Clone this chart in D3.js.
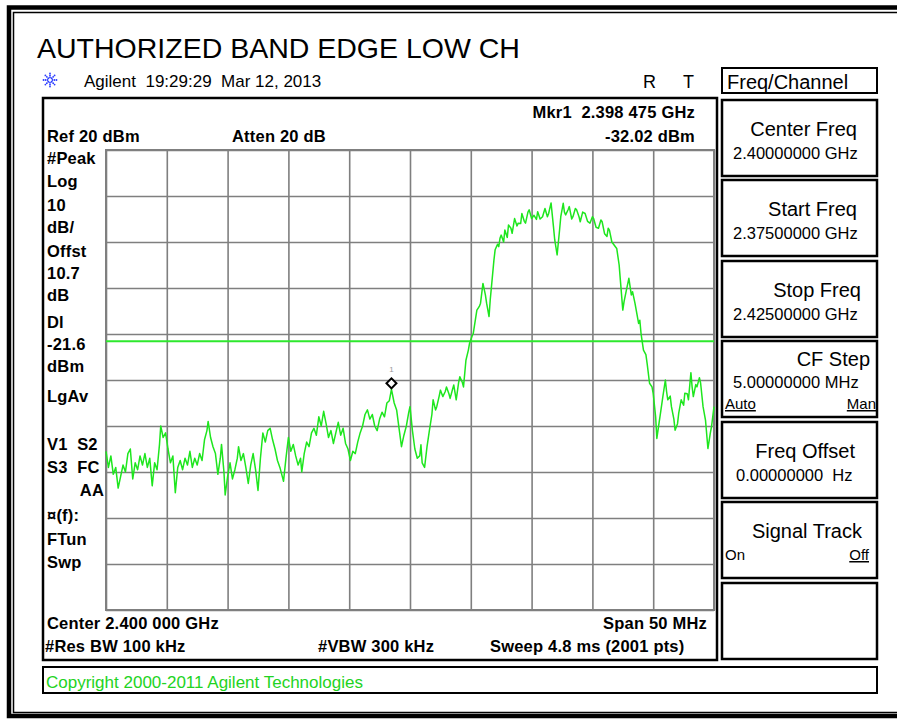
<!DOCTYPE html>
<html>
<head>
<meta charset="utf-8">
<script src="https://cdn.jsdelivr.net/npm/d3@7"></script>
<style>
  body { margin: 0; background: #fff; }
  text { font-family: "Liberation Sans", Arial, sans-serif; }
</style>
</head>
<body>
<div id="chart"></div>
<script>
// trace: [MHz, dBm]
const tracePts = [
  [2375.0, -45.5], [2375.2, -49.0], [2375.4, -46.5], [2375.6, -50.5], [2375.8, -49.0],
  [2376.0, -53.5], [2376.2, -51.0], [2376.4, -48.5], [2376.6, -50.0], [2376.8, -46.0],
  [2377.0, -45.0], [2377.2, -51.5], [2377.4, -48.0], [2377.6, -49.5], [2377.8, -46.5],
  [2378.0, -48.5], [2378.2, -46.0], [2378.4, -49.0], [2378.6, -47.0], [2378.8, -53.0],
  [2379.0, -48.0], [2379.2, -49.5], [2379.4, -44.0], [2379.5, -40.0], [2379.7, -42.5],
  [2379.9, -41.5], [2380.1, -45.0], [2380.3, -48.0], [2380.5, -46.5], [2380.7, -54.5],
  [2380.9, -49.0], [2381.1, -47.5], [2381.3, -49.5], [2381.5, -47.0], [2381.7, -48.5],
  [2381.9, -45.5], [2382.1, -49.0], [2382.3, -47.0], [2382.5, -48.5], [2382.7, -46.0],
  [2382.9, -47.5], [2383.1, -43.0], [2383.3, -41.0], [2383.4, -39.0], [2383.6, -42.5],
  [2383.8, -44.5], [2384.0, -46.0], [2384.2, -50.5], [2384.4, -47.0], [2384.5, -44.0],
  [2384.7, -50.0], [2384.8, -55.0], [2385.0, -51.0], [2385.2, -48.0], [2385.4, -51.5],
  [2385.6, -49.5], [2385.8, -47.0], [2385.9, -44.5], [2386.1, -47.5], [2386.3, -46.0],
  [2386.5, -49.0], [2386.7, -52.5], [2386.9, -48.5], [2387.1, -46.0], [2387.3, -49.5],
  [2387.5, -54.0], [2387.7, -47.0], [2387.9, -41.5], [2388.1, -43.5], [2388.3, -41.0],
  [2388.5, -40.5], [2388.7, -43.0], [2388.9, -45.0], [2389.1, -47.5], [2389.3, -49.0],
  [2389.5, -51.0], [2389.6, -52.0], [2389.8, -47.0], [2390.0, -42.5], [2390.2, -45.5],
  [2390.4, -44.0], [2390.6, -46.5], [2390.8, -48.5], [2391.0, -47.0], [2391.1, -50.0],
  [2391.3, -46.0], [2391.5, -43.5], [2391.7, -44.5], [2391.9, -41.5], [2392.1, -40.5],
  [2392.3, -42.0], [2392.5, -38.0], [2392.7, -40.0], [2392.9, -36.8], [2393.1, -39.5],
  [2393.3, -42.5], [2393.5, -41.0], [2393.7, -43.8], [2393.9, -41.5], [2394.1, -39.2],
  [2394.3, -42.0], [2394.5, -40.5], [2394.7, -43.8], [2394.9, -45.0], [2395.1, -47.5],
  [2395.3, -45.5], [2395.5, -46.0], [2395.7, -43.5], [2395.9, -41.5], [2396.1, -40.0],
  [2396.3, -37.5], [2396.5, -36.5], [2396.7, -38.5], [2396.9, -37.5], [2397.1, -40.0],
  [2397.3, -41.0], [2397.5, -38.5], [2397.7, -37.0], [2397.9, -38.0], [2398.1, -35.0],
  [2398.3, -34.5], [2398.475, -32.02], [2398.7, -35.0], [2398.9, -36.5], [2399.1, -40.5],
  [2399.3, -44.5], [2399.5, -42.0], [2399.7, -40.0], [2399.9, -37.0], [2400.0, -35.8],
  [2400.2, -41.0], [2400.4, -45.0], [2400.6, -47.0], [2400.8, -46.5], [2400.9, -44.1],
  [2401.0, -48.0], [2401.2, -49.0], [2401.4, -44.5], [2401.6, -40.9], [2401.8, -37.5],
  [2401.9, -34.3], [2402.1, -36.5], [2402.2, -35.8], [2402.4, -33.5], [2402.5, -32.2],
  [2402.7, -33.6], [2402.9, -32.5], [2403.0, -31.5], [2403.2, -33.0], [2403.3, -34.0],
  [2403.5, -32.0], [2403.6, -31.1], [2403.8, -34.3], [2404.0, -30.5], [2404.1, -29.3],
  [2404.3, -30.5], [2404.4, -31.5], [2404.6, -25.7], [2404.8, -23.5], [2404.9, -22.0],
  [2405.1, -20.5], [2405.2, -19.9], [2405.4, -16.5], [2405.5, -14.8], [2405.7, -14.0],
  [2405.8, -13.3], [2406.0, -9.0], [2406.2, -11.5], [2406.3, -13.3], [2406.5, -16.2],
  [2406.6, -12.5], [2406.7, -9.7], [2406.9, -4.0], [2407.0, -1.7], [2407.2, -0.5],
  [2407.3, -1.0], [2407.4, 0.8], [2407.5, 1.5], [2407.7, 0.0], [2407.8, 2.6],
  [2408.0, 1.0], [2408.1, 3.7], [2408.3, 3.0], [2408.4, 1.9], [2408.6, 5.1],
  [2408.8, 3.5], [2408.9, 4.1], [2409.1, 4.0], [2409.2, 6.2], [2409.4, 4.5],
  [2409.5, 4.1], [2409.7, 6.5], [2409.8, 7.0], [2410.0, 5.1], [2410.2, 5.8],
  [2410.4, 4.9], [2410.5, 6.6], [2410.7, 5.0], [2410.9, 5.5], [2411.1, 7.3],
  [2411.3, 5.5], [2411.4, 6.2], [2411.6, 8.5], [2411.8, 3.3], [2411.9, 0.5],
  [2412.1, -2.8], [2412.3, 2.6], [2412.4, 5.5], [2412.6, 8.4], [2412.7, 6.5],
  [2412.8, 5.9], [2413.0, 7.0], [2413.1, 7.7], [2413.3, 5.0], [2413.4, 5.5],
  [2413.6, 7.3], [2413.7, 7.0], [2413.9, 5.5], [2414.0, 4.4], [2414.2, 6.5],
  [2414.4, 6.2], [2414.6, 4.5], [2414.8, 4.1], [2415.0, 5.5], [2415.1, 5.1],
  [2415.3, 3.2], [2415.5, 3.0], [2415.7, 4.8], [2415.8, 4.4], [2416.0, 1.8],
  [2416.2, 1.2], [2416.3, 3.0], [2416.4, 2.6], [2416.6, 0.0], [2416.8, -0.7],
  [2417.0, -1.4], [2417.2, -5.0], [2417.3, -8.3], [2417.5, -14.8], [2417.6, -13.0],
  [2417.8, -10.4], [2418.0, -7.9], [2418.2, -11.5], [2418.3, -10.8], [2418.5, -13.3],
  [2418.8, -17.7], [2418.9, -17.0], [2419.0, -19.9], [2419.2, -23.5], [2419.4, -24.5],
  [2419.5, -26.4], [2419.7, -30.7], [2419.9, -31.5], [2420.0, -32.9], [2420.2, -38.0],
  [2420.3, -42.7], [2420.5, -39.0], [2420.6, -37.2], [2420.8, -33.5], [2421.0, -30.0],
  [2421.1, -32.5], [2421.2, -34.3], [2421.4, -33.5], [2421.5, -35.8], [2421.7, -38.5],
  [2421.8, -40.9], [2422.0, -39.5], [2422.1, -37.2], [2422.3, -34.3], [2422.5, -35.5],
  [2422.6, -32.9], [2422.8, -33.0], [2422.9, -34.3], [2423.1, -28.4], [2423.2, -31.5],
  [2423.3, -33.6], [2423.5, -31.0], [2423.6, -31.5], [2423.8, -29.5], [2423.9, -30.7],
  [2424.1, -35.8], [2424.3, -38.7], [2424.5, -44.9], [2424.7, -41.5], [2424.8, -40.1],
  [2425.0, -35.8]
];
const marker = { freq: 2398.475, level: -32.02 };
const displayLine = -21.6;
const startMHz = 2375, stopMHz = 2425, stepMHz = 5;
const refLevel = 20, dbPerDiv = 10, divisions = 10;

const leftLabels = ["#Peak", "Log", "10", "dB/", "Offst", "10.7", "dB", "Dl", "-21.6", "dBm",
  "LgAv", "V1  S2", "S3  FC", "AA", "\u00a4(f):", "FTun", "Swp"];
const leftLabelY = [164, 187, 211, 233, 257, 279, 301, 328, 350, 372, 402, 450, 473, 496, 521, 545, 568];

const softTitles = ["Center Freq", "Start Freq", "Stop Freq", "CF Step", "Freq Offset", "Signal Track", ""];
const softValues = ["2.40000000 GHz", "2.37500000 GHz", "2.42500000 GHz", "5.00000000 MHz", "0.00000000  Hz", "", ""];

const W = 897, H = 719;
const svg = d3.select("#chart").append("svg")
  .attr("width", W).attr("height", H)
  .style("display", "block");
svg.append("rect").attr("width", W).attr("height", H).attr("fill", "#fff");

// outer double frame (right side cut off)
svg.append("path").attr("d", "M897,7.5H9V716H897")
  .attr("fill", "none").attr("stroke", "#000").attr("stroke-width", 4.5);
svg.append("path").attr("d", "M897,12.5H13.5V712.5H897")
  .attr("fill", "none").attr("stroke", "#000").attr("stroke-width", 1.5);

svg.append("text").attr("x", 37).attr("y", 58)
  .style("font-size", "28.5px").text("AUTHORIZED BAND EDGE LOW CH");

// agilent spark
const logo = svg.append("g").attr("transform", "translate(50,80)");
d3.range(8).forEach(i => {
  const a = i * Math.PI / 4;
  [2.5, 4.5, 6.5].forEach(r => {
    logo.append("circle").attr("cx", r * Math.cos(a)).attr("cy", r * Math.sin(a))
      .attr("r", 0.9).attr("fill", "#2a3cff");
  });
});
svg.append("text").attr("x", 84).attr("y", 87).style("font-size", "17px")
  .style("white-space", "pre").text("Agilent  19:29:29  Mar 12, 2013");
svg.append("text").attr("x", 643).attr("y", 88).style("font-size", "18px").text("R");
svg.append("text").attr("x", 683).attr("y", 88).style("font-size", "18px").text("T");

// screen box
svg.append("rect").attr("x", 43).attr("y", 98).attr("width", 674).attr("height", 562)
  .attr("fill", "none").attr("stroke", "#000").attr("stroke-width", 2.5);

const x = d3.scaleLinear().domain([startMHz, stopMHz]).range([106, 714]);
const y = d3.scaleLinear().domain([refLevel - dbPerDiv * divisions, refLevel]).range([610, 150]);

const grid = svg.append("g");
grid.append("g").attr("transform", `translate(0,${y.range()[0]})`)
  .call(d3.axisBottom(x).tickValues(d3.range(startMHz, stopMHz + 1, stepMHz))
    .tickSize(-(y.range()[0] - y.range()[1])).tickFormat(""));
grid.append("g").attr("transform", `translate(${x.range()[0]},0)`)
  .call(d3.axisLeft(y).tickValues(d3.range(y.domain()[0], refLevel + 1, dbPerDiv))
    .tickSize(-(x.range()[1] - x.range()[0])).tickFormat(""));
grid.selectAll(".domain").remove();
grid.selectAll(".tick line").attr("stroke", "#7f7f7f").attr("stroke-width", 1.6);
grid.append("rect").attr("x", x.range()[0]).attr("y", y.range()[1])
  .attr("width", x.range()[1] - x.range()[0]).attr("height", y.range()[0] - y.range()[1])
  .attr("fill", "none").attr("stroke", "#7f7f7f").attr("stroke-width", 2);

// display line
svg.append("line").attr("x1", x.range()[0]).attr("x2", x.range()[1])
  .attr("y1", y(displayLine)).attr("y2", y(displayLine))
  .attr("stroke", "#2ee82e").attr("stroke-width", 2);

svg.append("path").datum(tracePts)
  .attr("fill", "none").attr("stroke", "#1ee61e").attr("stroke-width", 1.5)
  .attr("stroke-linejoin", "round")
  .attr("d", d3.line().x(d => x(d[0])).y(d => y(d[1])));

// marker 1
const mx = x(marker.freq), my = y(marker.level);
svg.append("path").attr("d", d3.symbol(d3.symbolSquare, 50)())
  .attr("transform", `translate(${mx},${my - 6}) rotate(45)`)
  .attr("fill", "#fff").attr("stroke", "#000").attr("stroke-width", 2);
svg.append("text").attr("x", mx).attr("y", my - 17).attr("text-anchor", "middle")
  .style("font-size", "8px").attr("fill", "#999").text("1");

// annotation texts
const bold = (sel) => sel.style("font-weight", "bold").style("font-size", "16.5px")
  .style("letter-spacing", "0.2px").style("white-space", "pre");
bold(svg.append("text").attr("x", 695).attr("y", 118).attr("text-anchor", "end")
  .text(`Mkr1  ${d3.format(".6f")(marker.freq / 1000).replace(/(\d\.\d{3})(\d{3})/, "$1 $2")} GHz`));
bold(svg.append("text").attr("x", 695).attr("y", 142).attr("text-anchor", "end")
  .text(`${marker.level.toFixed(2)} dBm`));
bold(svg.append("text").attr("x", 47).attr("y", 142).text(`Ref ${refLevel} dBm`));
bold(svg.append("text").attr("x", 232).attr("y", 142).text("Atten 20 dB"));
leftLabels.forEach((t, i) => {
  const el = bold(svg.append("text").attr("y", leftLabelY[i]).text(t));
  if (t === "AA") el.attr("x", 104).attr("text-anchor", "end");
  else el.attr("x", 47);
});
bold(svg.append("text").attr("x", 47).attr("y", 629).text("Center 2.400 000 GHz"));
bold(svg.append("text").attr("x", 707).attr("y", 629).attr("text-anchor", "end").text("Span 50 MHz"));
bold(svg.append("text").attr("x", 45).attr("y", 652).text("#Res BW 100 kHz"));
bold(svg.append("text").attr("x", 318).attr("y", 652).text("#VBW 300 kHz"));
bold(svg.append("text").attr("x", 490).attr("y", 652).text("Sweep 4.8 ms (2001 pts)"));

// copyright strip
svg.append("rect").attr("x", 43).attr("y", 667).attr("width", 834).attr("height", 26)
  .attr("fill", "none").attr("stroke", "#000").attr("stroke-width", 2);
svg.append("text").attr("x", 46).attr("y", 688).style("font-size", "17px")
  .attr("fill", "#22d322").text("Copyright 2000-2011 Agilent Technologies");

// softkey panel
svg.append("rect").attr("x", 722).attr("y", 68).attr("width", 155).attr("height", 25)
  .attr("fill", "none").attr("stroke", "#000").attr("stroke-width", 2);
svg.append("text").attr("x", 727).attr("y", 89).style("font-size", "20px").text("Freq/Channel");

const keyTop = [100, 180, 261, 341, 422, 502, 583];
const titleRight = [857, 857, 861, 870, 855, 862, 0];
softTitles.forEach((t, i) => {
  const top = keyTop[i];
  svg.append("rect").attr("x", 722).attr("y", top).attr("width", 155).attr("height", 76)
    .attr("fill", "none").attr("stroke", "#000").attr("stroke-width", 2.5);
  const cf = t === "CF Step";
  if (t) svg.append("text").attr("x", titleRight[i]).attr("y", top + (cf ? 25 : 36))
    .attr("text-anchor", "end").style("font-size", "20px").text(t);
  if (softValues[i]) svg.append("text").attr("x", t === "Freq Offset" ? 736 : 733)
    .attr("y", top + (cf ? 47 : 59)).style("font-size", "16.5px")
    .style("white-space", "pre").text(softValues[i]);
});
const opt = (xp, yp, t, anchor, ul) => svg.append("text").attr("x", xp).attr("y", yp)
  .attr("text-anchor", anchor).style("font-size", "15px")
  .style("text-decoration", ul ? "underline" : null).text(t);
opt(725, 409, "Auto", "start", true);
opt(876, 409, "Man", "end", true);
opt(725, 560, "On", "start", false);
opt(869, 560, "Off", "end", true);
</script>
</body>
</html>
